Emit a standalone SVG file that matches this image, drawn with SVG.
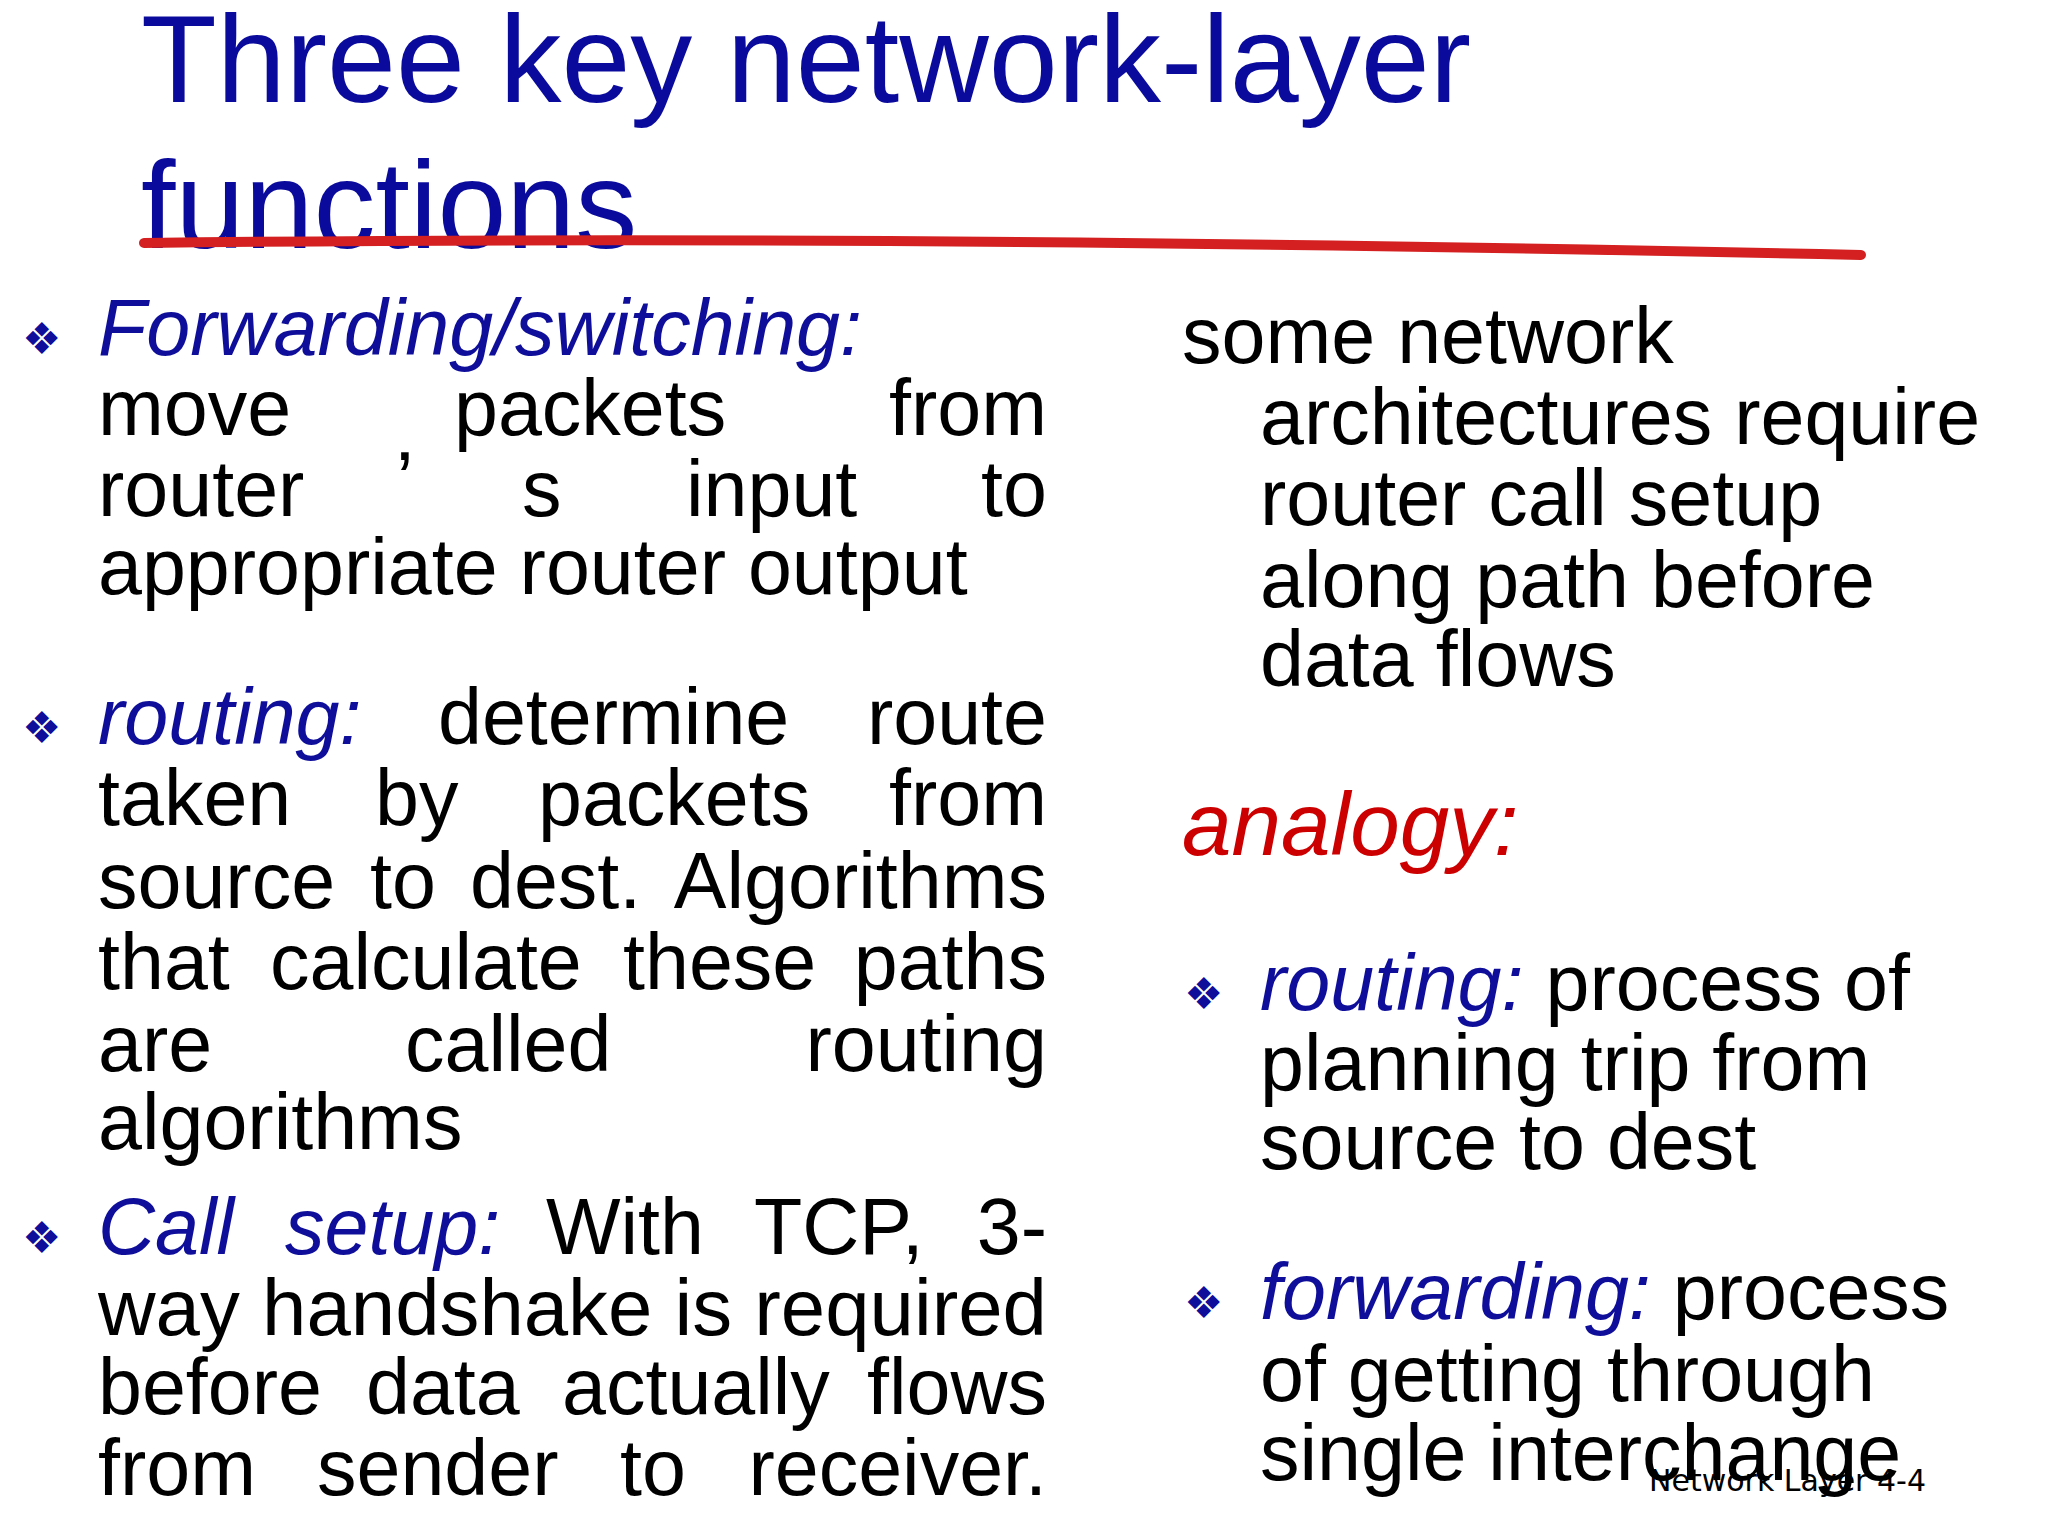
<svg xmlns="http://www.w3.org/2000/svg" width="2048" height="1536" viewBox="0 0 2048 1536">
<style>
text{font-family:"Liberation Sans",Arial,sans-serif;font-size:79px;fill:#000}
.t{font-size:124px;fill:#0a0a9c}
.b{fill:#0e0e9a;font-style:italic}
.r{fill:#cc0000;font-style:italic;font-size:89px}
.bul{font-family:"DejaVu Sans",sans-serif;font-size:44px;fill:#0e0e9a}
.e{text-anchor:end}
.f{font-family:"DejaVu Sans",sans-serif;font-size:30px}
</style>
<rect width="2048" height="1536" fill="#fff"/>
<g id="title">
<text class="t" x="141" y="102">Three key network-layer</text>
<text class="t" x="141" y="248">functions</text>
<path d="M144 243 Q900 234 1861 255" stroke="#d42020" stroke-width="10" fill="none" stroke-linecap="round"/>
</g>
<g id="left">
<text class="bul" x="22" y="354">❖</text>
<text class="b" x="98" y="355">Forwarding/switching:</text>
<text x="98" y="435">move</text><text x="454" y="435">packets</text><text class="e" x="1047" y="435">from</text>
<text x="98" y="516">router</text><text x="396" y="507">’</text><text x="522" y="516">s</text><text x="686" y="516">input</text><text class="e" x="1047" y="516">to</text>
<text x="98" y="594">appropriate router output</text>
<text class="bul" x="22" y="743">❖</text>
<text class="b" x="98" y="744">routing:</text><text x="438" y="744">determine</text><text class="e" x="1047" y="744">route</text>
<text x="98" y="825">taken</text><text x="375" y="825">by</text><text x="538" y="825">packets</text><text class="e" x="1047" y="825">from</text>
<text x="98" y="908">source</text><text x="370" y="908">to</text><text x="470" y="908">dest.</text><text class="e" x="1047" y="908">Algorithms</text>
<text x="98" y="989">that</text><text x="270" y="989">calculate</text><text x="623" y="989">these</text><text class="e" x="1047" y="989">paths</text>
<text x="98" y="1071">are</text><text x="405" y="1071">called</text><text class="e" x="1047" y="1071">routing</text>
<text x="98" y="1149">algorithms</text>
<text class="bul" x="22" y="1253">❖</text>
<text class="b" x="98" y="1254">Call</text><text class="b" x="285" y="1254">setup:</text><text x="546" y="1254">With</text><text x="754" y="1254">TCP,</text><text class="e" x="1047" y="1254">3-</text>
<text x="98" y="1335" textLength="949" lengthAdjust="spacingAndGlyphs">way handshake is required</text>
<text x="98" y="1414">before</text><text x="366" y="1414">data</text><text x="562" y="1414">actually</text><text class="e" x="1047" y="1414">flows</text>
<text x="98" y="1495">from</text><text x="317" y="1495">sender</text><text x="620" y="1495">to</text><text class="e" x="1047" y="1495">receiver.</text>
</g>
<g id="right">
<text x="1182" y="363">some network</text>
<text x="1260" y="444">architectures require</text>
<text x="1260" y="525">router call setup</text>
<text x="1260" y="607">along path before</text>
<text x="1260" y="686">data flows</text>
<text class="r" x="1182" y="855">analogy:</text>
<text class="bul" x="1184" y="1009">❖</text>
<text x="1260" y="1010"><tspan class="b">routing:</tspan> process of</text>
<text x="1260" y="1090">planning trip from</text>
<text x="1260" y="1169">source to dest</text>
<text class="bul" x="1184" y="1318">❖</text>
<text x="1260" y="1319"><tspan class="b">forwarding:</tspan> process</text>
<text x="1260" y="1401">of getting through</text>
<text x="1260" y="1480">single interchange</text>
</g>
<g id="footer"><text class="f" x="1649" y="1491">Network Layer  4-4</text></g>
</svg>
